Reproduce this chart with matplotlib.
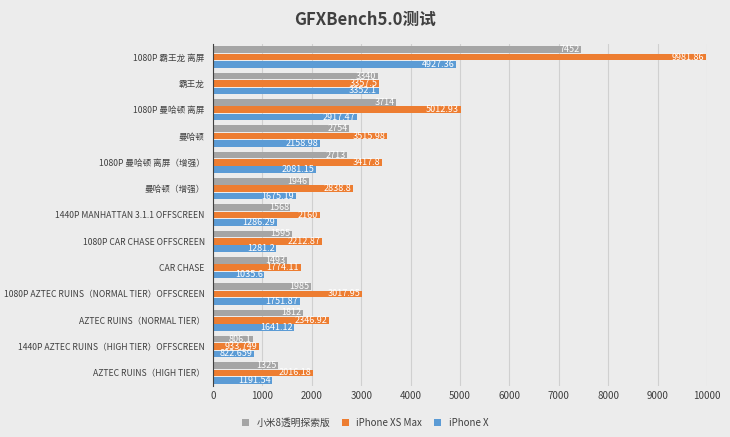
import matplotlib
matplotlib.use('Agg')
import matplotlib.pyplot as plt
import numpy as np

plt.rcParams['font.family'] = ['Noto Sans CJK SC', 'DejaVu Sans']

categories = ['1080P 霸王龙 离屏', '霸王龙', '1080P 曼哈顿 离屏', '曼哈顿', '1080P 曼哈顿 离屏（增强）',
              '曼哈顿（增强）', '1440P MANHATTAN 3.1.1 OFFSCREEN', '1080P CAR CHASE OFFSCREEN', 'CAR CHASE',
              '1080P AZTEC RUINS（NORMAL TIER）OFFSCREEN', 'AZTEC RUINS（NORMAL TIER）',
              '1440P AZTEC RUINS（HIGH TIER）OFFSCREEN', 'AZTEC RUINS（HIGH TIER）']
mi8 = [7452, 3340, 3714, 2754, 2713, 1946, 1568, 1595, 1493, 1985, 1812, 806.1, 1325]
xsmax = [9981.86, 3357.5, 5012.93, 3515.98, 3417.8, 2838.8, 2160, 2212.87, 1774.11, 3017.95, 2346.92, 933.749, 2016.18]
iphx = [4927.36, 3352.1, 2917.47, 2158.98, 2081.15, 1675.19, 1286.29, 1281.2, 1035.6, 1751.87, 1641.12, 822.659, 1191.54]
series = [('小米8透明探索版', mi8, '#a5a5a5'), ('iPhone XS Max', xsmax, '#ed7d31'), ('iPhone X', iphx, '#5b9bd5')]
labels_txt = [
    ['7452', '3340', '3714', '2754', '2713', '1946', '1568', '1595', '1493', '1985', '1812', '806.1', '1325'],
    ['9981.86', '3357.5', '5012.93', '3515.98', '3417.8', '2838.8', '2160', '2212.87', '1774.11', '3017.95', '2346.92', '933.749', '2016.18'],
    ['4927.36', '3352.1', '2917.47', '2158.98', '2081.15', '1675.19', '1286.29', '1281.2', '1035.6', '1751.87', '1641.12', '822.659', '1191.54'],
]

fig = plt.figure(figsize=(7.3, 4.37), dpi=100)
fig.patch.set_facecolor('#ececec')
ax = fig.add_axes([213/730, 1-386/437, 494/730, 342/437])
ax.set_facecolor('#ececec')
n = len(categories)
y = np.arange(n)
h = 0.28
for i, (name, vals, col) in enumerate(series):
    yy = y + (i - 1) * h
    ax.barh(yy, vals, height=h*0.9, color=col, label=name)
    for v, t, yv in zip(vals, labels_txt[i], yy):
        ax.text(v - 30, yv, t, ha='right', va='center', color='white', fontsize=6.5)
ax.set_ylim(n - 0.5, -0.5)
ax.set_xlim(0, 10000)
ax.set_xticks(range(0, 10001, 1000))
ax.set_yticks(y)
ax.set_yticklabels(categories, fontsize=6.2)
ax.tick_params(axis='x', labelsize=7, length=0, colors='#404040')
ax.tick_params(axis='y', length=0, colors='#404040', pad=6)
ax.grid(axis='x', color='#d0d0d0', linewidth=0.8)
ax.set_axisbelow(True)
for s in ['top', 'right', 'bottom']:
    ax.spines[s].set_visible(False)
ax.spines['left'].set_color('#404040')
fig.text(0.5, 0.955, 'GFXBench5.0测试', ha='center', va='center', fontsize=12, fontweight='bold', color='#404040')
fig.legend(loc='lower center', ncol=3, frameon=False, fontsize=7, bbox_to_anchor=(0.5, 0.0),
           handlelength=0.7, handleheight=0.7, columnspacing=1.2, labelcolor='#404040')
fig.savefig('out.png', dpi=100, facecolor=fig.get_facecolor())
